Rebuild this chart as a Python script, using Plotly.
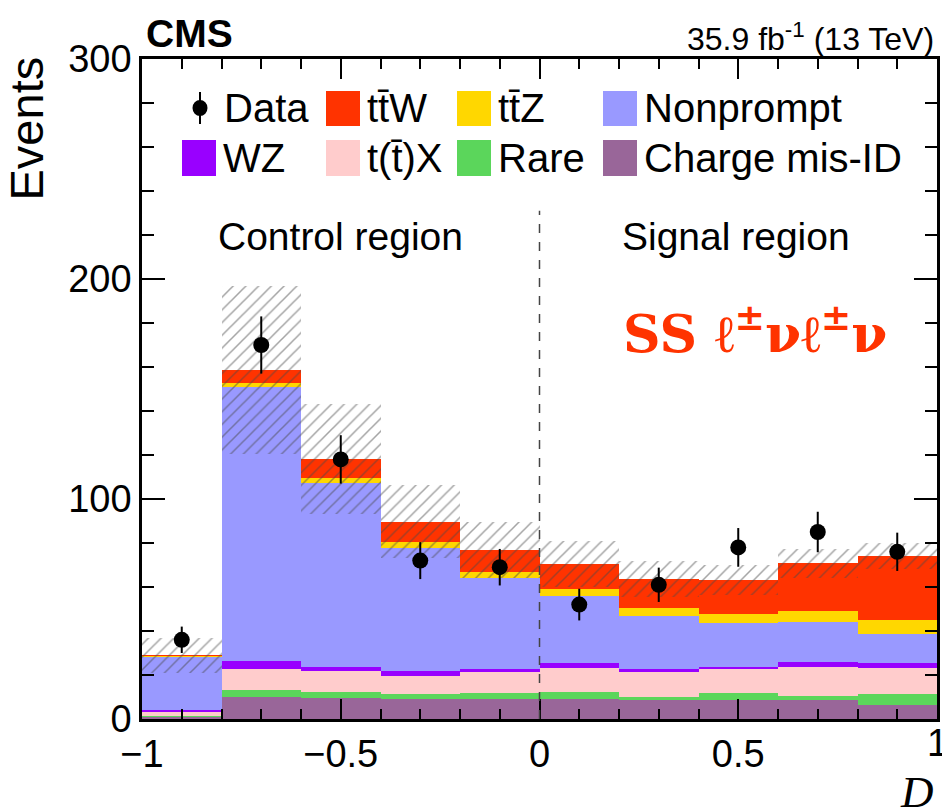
import numpy as np
import plotly.graph_objects as go

# ---------------- data ----------------
bin_edges = [-1.0, -0.8, -0.6, -0.4, -0.2, 0.0, 0.2, 0.4, 0.6, 0.8, 1.0]
charge_misid = [1.0, 10.1, 9.7, 9.1, 9.1, 8.9, 8.6, 8.6, 8.6, 6.4]
rare = [0.5, 3.1, 2.6, 2.3, 2.6, 3.2, 1.5, 3.1, 1.9, 5.0]
ttx = [1.5, 9.5, 9.5, 8.1, 10.1, 11.2, 11.4, 11.0, 13.0, 11.6]
wz = [1.0, 3.7, 1.8, 2.3, 0.9, 2.2, 1.1, 1.1, 2.4, 2.3]
nonprompt = [24.6, 124.6, 83.5, 56.1, 41.3, 30.5, 24.2, 19.7, 18.3, 13.3]
ttz = [0.1, 1.6, 2.3, 2.7, 2.7, 2.9, 3.5, 4.2, 4.9, 6.4]
ttw = [0.2, 6.0, 8.8, 9.1, 10.1, 11.6, 13.3, 15.5, 21.7, 29.1]
total_unc = [8.0, 38.0, 25.0, 16.5, 12.6, 10.5, 8.0, 7.0, 6.5, 6.0]
data_counts = [36, 170, 118, 72, 69, 52, 61, 78, 85, 76]
data_err = [6.0, 13.0, 11.0, 8.4, 8.3, 7.2, 7.8, 8.8, 9.2, 8.7]

# stacking order: bottom -> top
stack_names = ["Charge mis-ID", "Rare", "t(t\u0304)X", "WZ", "Nonprompt", "tt\u0304Z", "tt\u0304W"]
stack_values = [charge_misid, rare, ttx, wz, nonprompt, ttz, ttw]
stack_colors = ["#996699", "#5bd65b", "#ffcccc", "#9900ff", "#9999ff", "#ffd700", "#ff3300"]

legend_rows = [["Data", "tt\u0304W", "tt\u0304Z", "Nonprompt"],
               ["WZ", "t(t\u0304)X", "Rare", "Charge mis-ID"]]

x_tickvals = [-1, -0.5, 0, 0.5, 1]
x_ticktext = ["\u22121", "\u22120.5", "0", "0.5", "1"]
y_tickvals = [0, 100, 200, 300]

edges = np.array(bin_edges)
centers = 0.5 * (edges[:-1] + edges[1:])
widths = np.diff(edges)

FONT = "Liberation Sans, Arial, Helvetica, sans-serif"

fig = go.Figure()

base = np.zeros(len(centers))
for name, vals, col in zip(stack_names, stack_values, stack_colors):
    v = np.array(vals, dtype=float)
    fig.add_trace(go.Bar(x=centers, y=v, base=base.copy(), width=widths,
                         marker=dict(color=col, line=dict(width=0)),
                         name=name, showlegend=False, hoverinfo="skip"))
    base = base + v

total = base
unc = np.array(total_unc)
fig.add_trace(go.Bar(x=centers, y=2 * unc, base=total - unc, width=widths,
                     marker=dict(color="rgba(0,0,0,0)", line=dict(width=0),
                                 pattern=dict(shape="/", fgcolor="#4a4a4a",
                                              bgcolor="rgba(0,0,0,0)",
                                              size=9, solidity=0.17,
                                              fillmode="overlay")),
                     name="Uncertainty", showlegend=False, hoverinfo="skip"))

fig.add_trace(go.Scatter(x=centers, y=data_counts, mode="markers",
                         marker=dict(color="black", size=16),
                         error_y=dict(type="data", array=data_err, color="black",
                                      thickness=2, width=0),
                         name="Data", showlegend=False))

# ---------------- layout ----------------
L, R, T, B = 142, 5, 59, 88
W, H = 942, 807
pw, ph = W - L - R, H - T - B


def pxx(xp):
    return (xp - L) / pw


def pyy(yp):
    return (H - B - yp) / ph


fig.update_layout(
    width=W, height=H,
    margin=dict(l=L, r=R, t=T, b=B, autoexpand=False),
    paper_bgcolor="white", plot_bgcolor="white",
    barmode="overlay", bargap=0,
    showlegend=False,
    font=dict(family=FONT, color="black", size=38),
)

# last x tick label ("1") sits on the figure edge; it is drawn as an annotation below
fig.update_xaxes(range=[-1, 1], tickmode="array",
                 tickvals=x_tickvals[:-1], ticktext=x_ticktext[:-1],
                 ticks="inside", ticklen=20, tickwidth=1.5, tickcolor="black",
                 minor=dict(dtick=0.1, ticks="inside", ticklen=10, tickwidth=1.5, tickcolor="black"),
                 showline=True, linewidth=2.5, linecolor="black", mirror="ticks",
                 showgrid=False, zeroline=False, automargin=False,
                 tickfont=dict(size=38, family=FONT))
fig.update_yaxes(range=[0, 300], tickmode="array", tickvals=y_tickvals,
                 ticks="inside", ticklen=23, tickwidth=1.5, tickcolor="black",
                 minor=dict(dtick=20, ticks="inside", ticklen=12, tickwidth=1.5, tickcolor="black"),
                 showline=True, linewidth=2.5, linecolor="black", mirror="ticks",
                 showgrid=False, zeroline=False, automargin=False,
                 tickfont=dict(size=38, family=FONT))

shapes = []
# dashed separator between control and signal regions
shapes.append(dict(type="line", xref="x", yref="y", x0=0, x1=0, y0=0, y1=231,
                   line=dict(color="#444444", width=1.5, dash="dash"), layer="above"))

annotations = []
annotations.append(dict(text=x_ticktext[-1], xref="x", yref="paper", x=x_tickvals[-1], y=0,
                        xanchor="center", yanchor="top", yshift=-1, showarrow=False,
                        font=dict(size=38, family=FONT)))
# CMS label and lumi
annotations.append(dict(text="<b>CMS</b>", xref="paper", yref="paper", x=pxx(144), y=1,
                        xanchor="left", yanchor="bottom", yshift=2, showarrow=False,
                        font=dict(size=39, family=FONT)))
annotations.append(dict(text="35.9 fb<sup>-1</sup> (13 TeV)", xref="paper", yref="paper",
                        x=pxx(936), y=1, xanchor="right", yanchor="bottom", yshift=0,
                        showarrow=False, font=dict(size=32, family=FONT)))
# y-axis title
annotations.append(dict(text="Events", xref="paper", yref="paper", x=0, y=pyy(55),
                        xanchor="right", yanchor="top", xshift=-87, textangle=-90,
                        showarrow=False, font=dict(size=47, family=FONT)))
# x-axis title
annotations.append(dict(text="<i>D</i>", xref="paper", yref="paper", x=pxx(936), y=pyy(765),
                        xanchor="right", yanchor="top", showarrow=False,
                        font=dict(size=45, family="Liberation Serif, Times New Roman, serif")))
# region labels
annotations.append(dict(text="Control region", xref="paper", yref="paper", x=pxx(340), y=pyy(236),
                        xanchor="center", yanchor="middle", showarrow=False,
                        font=dict(size=39, family=FONT)))
annotations.append(dict(text="Signal region", xref="paper", yref="paper", x=pxx(736), y=pyy(236),
                        xanchor="center", yanchor="middle", showarrow=False,
                        font=dict(size=39, family=FONT)))
# channel label
annotations.append(dict(text="<b>SS \u2113<sup>\u00b1</sup>\u03bd\u2113<sup>\u00b1</sup>\u03bd</b>",
                        xref="paper", yref="paper", x=pxx(621), y=pyy(330),
                        xanchor="left", yanchor="middle", showarrow=False,
                        font=dict(size=52, family="DejaVu Serif, serif", color="#ff3300")))

# ---------------- manual legend ----------------
color_of = dict(zip(stack_names, stack_colors))
col_box_x = [182, 326, 457, 603]
row_box_y = [(91, 126), (140, 176)]
row_text_y = [108, 158]
for r, row in enumerate(legend_rows):
    for c, label in enumerate(row):
        bx0 = col_box_x[c]
        bx1 = bx0 + 34
        if label == "Data":
            cx, cy = 200, row_text_y[r]
            shapes.append(dict(type="line", xref="paper", yref="paper",
                               x0=pxx(cx), x1=pxx(cx), y0=pyy(cy - 16), y1=pyy(cy + 16),
                               line=dict(color="black", width=2)))
            shapes.append(dict(type="circle", xref="paper", yref="paper",
                               xsizemode="pixel", ysizemode="pixel",
                               xanchor=pxx(cx), yanchor=pyy(cy),
                               x0=-7.5, x1=7.5, y0=-8, y1=8,
                               fillcolor="black", line=dict(width=0)))
            tx = 222
        else:
            y0, y1 = row_box_y[r]
            shapes.append(dict(type="rect", xref="paper", yref="paper",
                               x0=pxx(bx0), x1=pxx(bx1), y0=pyy(y1), y1=pyy(y0),
                               fillcolor=color_of[label], line=dict(width=0)))
            tx = bx1 + 5
        annotations.append(dict(text=label, xref="paper", yref="paper", x=pxx(tx),
                                y=pyy(row_text_y[r]), xanchor="left", yanchor="middle",
                                showarrow=False, font=dict(size=40, family=FONT)))

fig.update_layout(shapes=shapes, annotations=annotations)

fig.write_html("out.html")
